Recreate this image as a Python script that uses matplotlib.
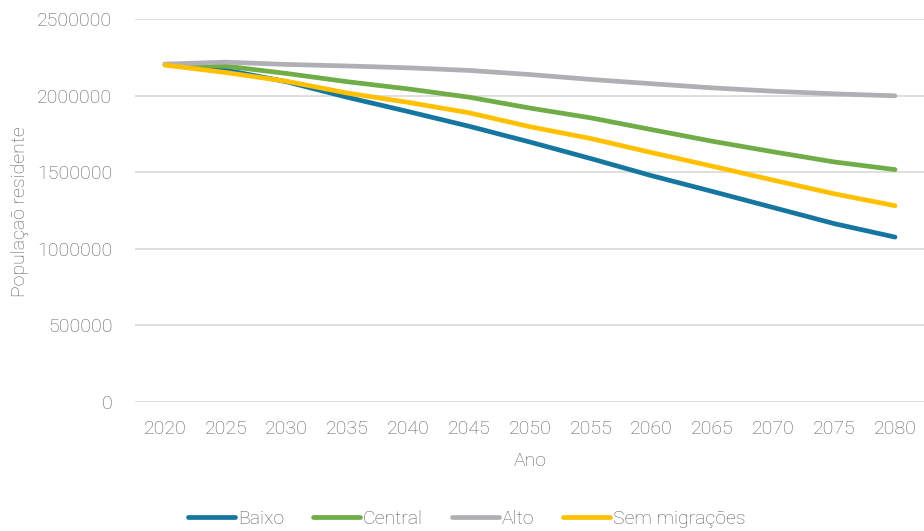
import matplotlib
matplotlib.use("Agg")
import matplotlib.pyplot as plt
from matplotlib.ticker import FuncFormatter

plt.rcParams['font.family'] = ['Roboto', 'DejaVu Sans']

anos = [2020, 2025, 2030, 2035, 2040, 2045, 2050, 2055, 2060, 2065, 2070, 2075, 2080]

baixo = [2203000, 2166000, 2090000, 1988000, 1895000, 1799000, 1696000,
         1588000, 1476000, 1373000, 1268000, 1163000, 1075000]
central = [2203000, 2192000, 2144000, 2090000, 2043000, 1989000, 1918000,
           1854000, 1777000, 1701000, 1632000, 1566000, 1516000]
alto = [2205000, 2218000, 2203000, 2193000, 2181000, 2164000, 2137000,
        2105000, 2077000, 2050000, 2028000, 2011000, 1998000]
sem_migracoes = [2199000, 2150000, 2093000, 2016000, 1955000, 1887000, 1796000,
                 1719000, 1627000, 1538000, 1447000, 1358000, 1280000]

series = [
    ("Baixo", baixo, "#15779F"),
    ("Central", central, "#70AD47"),
    ("Alto", alto, "#B0B0B4"),
    ("Sem migrações", sem_migracoes, "#FFC000"),
]

text_color = "#5E5E5E"
grid_color = "#D9D9D9"
fs = 14

fig = plt.figure(figsize=(9.24, 5.31), dpi=100)
# plot area in pixel units: left 134.6, right 925.4, top 19, bottom 401.6
ax = fig.add_axes([134.6 / 924, 1 - 401.6 / 531, (925.4 - 134.6) / 924, (401.6 - 19) / 531])

xs = list(range(len(anos)))
for nome, valores, cor in series:
    ax.plot(xs, valores, color=cor, linewidth=3.4, solid_capstyle="round",
            solid_joinstyle="round", label=nome, zorder=3)

ax.set_xlim(-0.5, len(anos) - 0.5)
ax.set_ylim(0, 2500000)
ax.set_yticks(range(0, 2500001, 500000))
ax.yaxis.set_major_formatter(FuncFormatter(lambda v, p: f"{int(v)}"))
ax.set_xticks(xs)
ax.set_xticklabels([str(a) for a in anos])

ax.grid(axis="y", color=grid_color, linewidth=1.2, zorder=0)
ax.set_axisbelow(True)
for s in ax.spines.values():
    s.set_visible(False)
ax.tick_params(axis="both", length=0, labelsize=fs, labelcolor=text_color)
ax.tick_params(axis="y", pad=16)
ax.tick_params(axis="x", pad=13)
for lab in ax.get_xticklabels() + ax.get_yticklabels():
    lab.set_fontweight("light")

ax.set_xlabel("Ano", fontsize=fs, color=text_color, fontweight="light")
ax.set_ylabel("Populaçaõ residente", fontsize=fs, color=text_color, fontweight="light")

# axis titles centred at fixed offsets from the plot area
ax.xaxis.set_label_coords(0.5, -(461 - 401.6) / (401.6 - 19))
ax.xaxis.label.set_verticalalignment("center")
ax.yaxis.set_label_coords(-(134.6 - 20) / (925.4 - 134.6), (401.6 - 212) / (401.6 - 19))
ax.yaxis.label.set_verticalalignment("center")

leg = fig.legend(loc="center", bbox_to_anchor=(467 / 924, 1 - 519 / 531), ncol=4,
                 frameon=False, handlelength=2.4, handletextpad=0.15,
                 columnspacing=1.5, fontsize=fs)
for t in leg.get_texts():
    t.set_color(text_color)
    t.set_fontweight("light")

fig.savefig("out.png", dpi=100)
